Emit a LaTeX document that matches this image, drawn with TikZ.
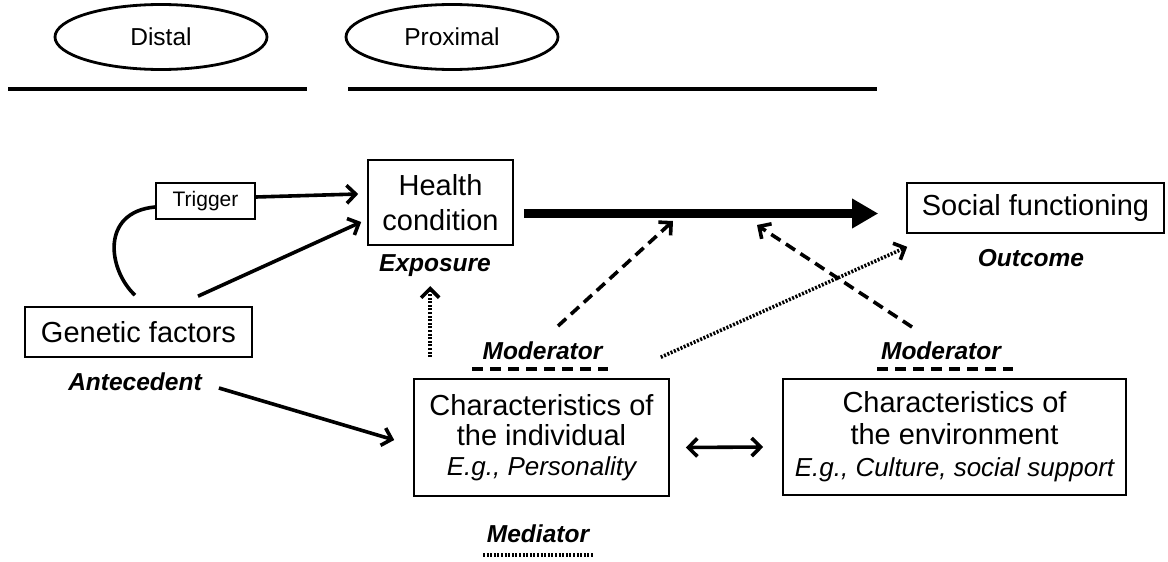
\documentclass[tikz,border=0pt]{standalone}
\usepackage{fontspec}
\setmainfont{Liberation Sans}
\usetikzlibrary{arrows.meta,shapes.geometric,calc}
\newcommand{\egfont}{\fontsize{26}{30}\selectfont\itshape}
\begin{document}
\begin{tikzpicture}[x=1pt,y=-1pt,
  box/.style={draw, line width=1.6pt, inner sep=0pt, align=center,
    font=\fontsize{29}{32}\selectfont},
  ell/.style={draw, ellipse, line width=2.8pt, inner sep=0pt,
    minimum width=212pt, minimum height=65pt, font=\fontsize{24.5}{28}\selectfont},
  lab/.style={inner sep=0pt, font=\fontsize{24.5}{28}\selectfont\bfseries\itshape},
  barb/.tip={Straight Barb[length=9pt,width=18pt]},
  arr/.style={line width=3.6pt, -barb},
  solidln/.style={line width=3.6pt},
  dashln/.style={line width=3.6pt, dash pattern=on 11pt off 6.5pt, -barb},
  dotln/.style={line width=3.6pt, dash pattern=on 2pt off 1.6pt, -barb},
  thickarr/.style={line width=9pt, -{Triangle[length=26pt,width=28pt]}},
  rule/.style={line width=4.2pt},
  dashrule/.style={line width=3.2pt, dash pattern=on 11pt off 7pt},
  dotrule/.style={line width=3.2pt, dash pattern=on 2pt off 1.6pt}
]
\useasboundingbox (0,0) rectangle (1168,562);

% header
\node[ell] (distal) at (161,37) {Distal};
\node[ell] (prox) at (452,37) {Proximal};
\coordinate (r1a) at (8,89);
\coordinate (r1b) at (307,89);
\coordinate (r2a) at (348,89);
\coordinate (r2b) at (877,89);
\draw[rule] (r1a) -- (r1b);
\draw[rule] (r2a) -- (r2b);

% boxes
\node[box, minimum width=145pt, minimum height=85pt,
  font=\fontsize{29}{35}\selectfont] (health) at (440.5,202.5) {Health\\condition};
\node[box, minimum width=99pt, minimum height=36pt,
  font=\fontsize{21}{24}\selectfont] (trig) at (205.5,201) {Trigger};
\node[box, minimum width=227pt, minimum height=50pt] (gen) at (138.5,332) {Genetic factors};
\node[box, minimum width=257pt, minimum height=50pt] (social) at (1035.5,208) {Social functioning};
\node[box, minimum width=255pt, minimum height=117pt,
  font=\fontsize{29}{30}\selectfont] (ind) at (541.5,437.5)
  {Characteristics of\\the individual\\{\egfont E.g., Personality}};
\node[box, minimum width=343pt, minimum height=116pt,
  font=\fontsize{29}{32}\selectfont] (env) at (954.5,437)
  {Characteristics of\\the environment\\{\egfont E.g., Culture, social support}};

% labels
\node[lab] (expo) at (435,266) {Exposure};
\node[lab] (ante) at (135,382) {Antecedent};
\node[lab] (outc) at (1031,258) {Outcome};
\node[lab] (modL) at (542.5,351) {Moderator};
\node[lab] (modR) at (941,351) {Moderator};
\node[lab] (medi) at (538,534) {Mediator};

\coordinate (uLa) at (472,369);
\coordinate (uLb) at (608,369);
\coordinate (uRa) at (877,369);
\coordinate (uRb) at (1013,369);
\coordinate (uMa) at (483,555);
\coordinate (uMb) at (593,555);
\draw[dashrule] (uLa) -- (uLb);
\draw[dashrule] (uRa) -- (uRb);
\draw[dotrule] (uMa) -- (uMb);

% connectors
\draw[solidln] ([xshift=-3.5pt,yshift=11pt]gen.north)
  .. controls (108,270) and (100,212) .. ([yshift=-6pt]trig.west);
\draw[arr] ([yshift=4pt]trig.east) -- ([xshift=-9pt,yshift=8.5pt]health.west);
\draw[arr] ([xshift=59.5pt,yshift=10pt]gen.north) -- ([xshift=-6pt,yshift=-19.5pt]health.west);
\draw[arr] ([xshift=17pt,yshift=-6pt]ante.east) -- ([xshift=-19pt,yshift=-2.5pt]ind.west);
\draw[line width=3.6pt, barb-barb] ([xshift=16pt,yshift=-10pt]ind.east) -- ([xshift=-19pt,yshift=-10pt]env.west);
\draw[thickarr] ([xshift=10pt,yshift=-11pt]health.east) -- ([xshift=-28pt,yshift=-5.5pt]social.west);

\coordinate (m1) at (673,221);
\coordinate (m2) at (757,225);
\coordinate (s1) at (558,326);
\coordinate (s2) at (912,327);
\draw[dashln] (s1) -- (m1);
\draw[dashln] (s2) -- (m2);
\draw[dotln] ([xshift=-9pt,yshift=21pt]ind.north east) -- ([xshift=1pt,yshift=-13pt]social.south west);
\draw[dotln] ([xshift=17pt,yshift=21pt]ind.north west) -- ([xshift=17pt,yshift=92pt]ind.north west);
\end{tikzpicture}
\end{document}
